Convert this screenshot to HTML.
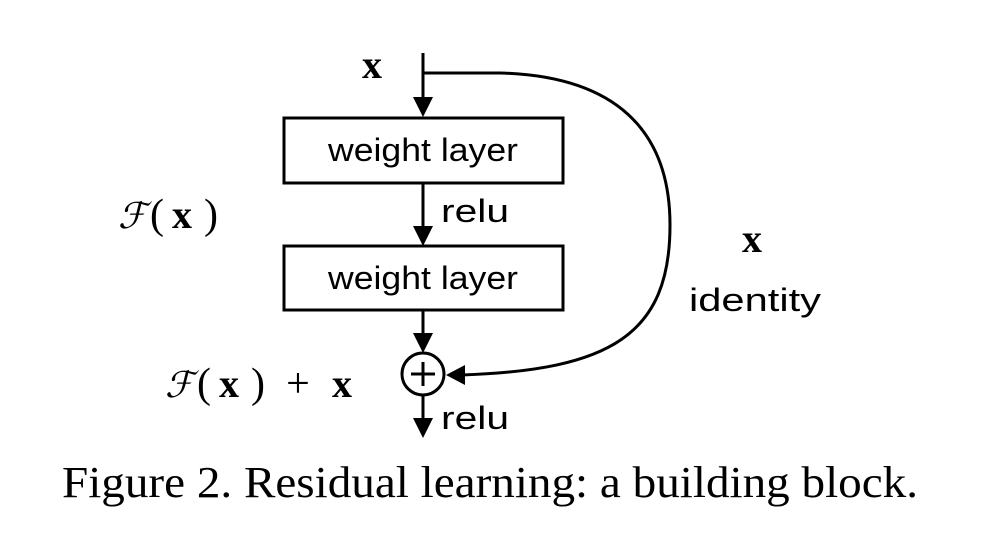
<!DOCTYPE html>
<html><head><style>body{margin:0;background:#fff}svg{display:block}</style></head><body>
<svg width="998" height="536" viewBox="0 0 998 536" xmlns="http://www.w3.org/2000/svg">
<g stroke="#000" stroke-width="3" fill="none">
<line x1="423" y1="53" x2="423" y2="100"/>
<rect x="284" y="118" width="279" height="65"/>
<line x1="423" y1="183" x2="423" y2="228"/>
<rect x="284" y="246" width="279" height="64"/>
<line x1="423" y1="310" x2="423" y2="336"/>
<circle cx="423" cy="374" r="21"/>
<line x1="423" y1="362" x2="423" y2="386"/>
<line x1="411" y1="374" x2="435" y2="374"/>
<line x1="423" y1="395" x2="423" y2="420"/>
<path d="M423,73 L500,73 C615,76 670,130 670,225 C670,335 610,370 462,375"/>
</g>
<g fill="#000">
<polygon points="413,97 433,97 423,117"/>
<polygon points="413,226 433,226 423,246"/>
<polygon points="413,333 433,333 423,353"/>
<polygon points="413,418 433,418 423,438"/>
<polygon points="446,375 465,365 465,385"/>
</g>
<g font-family="'Liberation Sans',sans-serif" font-size="32" fill="#000">
<text x="423" y="161" text-anchor="middle" textLength="190" lengthAdjust="spacingAndGlyphs">weight layer</text>
<text x="423" y="289" text-anchor="middle" textLength="190" lengthAdjust="spacingAndGlyphs">weight layer</text>
<text x="441" y="222" textLength="68" lengthAdjust="spacingAndGlyphs">relu</text>
<text x="441" y="429" textLength="68" lengthAdjust="spacingAndGlyphs">relu</text>
<text x="689" y="311" textLength="132" lengthAdjust="spacingAndGlyphs">identity</text>
</g>
<g font-family="'Liberation Serif',serif" font-size="40" fill="#000">
<text x="372" y="78" text-anchor="middle" font-weight="bold">x</text>
<text x="752" y="252" text-anchor="middle" font-weight="bold">x</text>
<text x="118" y="228" font-family="'DejaVu Serif',serif" font-style="italic" font-size="36">ℱ</text>
<text x="150" y="228" font-size="42">(</text>
<text x="182" y="228" text-anchor="middle" font-weight="bold">x</text>
<text x="204" y="228" font-size="42">)</text>
<text x="165" y="397" font-family="'DejaVu Serif',serif" font-style="italic" font-size="36">ℱ</text>
<text x="197" y="397" font-size="42">(</text>
<text x="229" y="397" text-anchor="middle" font-weight="bold">x</text>
<text x="251" y="397" font-size="42">)</text>
<text x="298" y="397" text-anchor="middle" font-size="42">+</text>
<text x="342" y="397" text-anchor="middle" font-weight="bold">x</text>
</g>
<text x="62" y="497" font-family="'Liberation Serif',serif" font-size="44" textLength="856" lengthAdjust="spacingAndGlyphs" fill="#000">Figure 2. Residual learning: a building block.</text>
</svg>
</body></html>
